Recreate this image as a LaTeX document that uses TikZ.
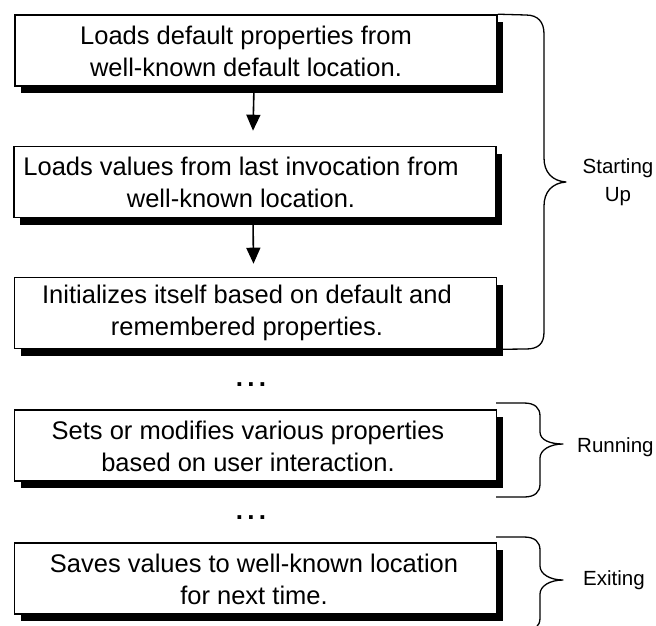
\documentclass[tikz,border=0pt]{standalone}
\usepackage{fontspec}
\setmainfont{Liberation Sans}
\usetikzlibrary{arrows.meta,shadows}
\begin{document}
\begin{tikzpicture}[x=1pt,y=-1pt,
  stepbox/.style={draw=black,line width=1.6pt,fill=white,rectangle,
    minimum width=482pt,minimum height=71pt,inner sep=0pt,
    drop shadow={shadow xshift=6pt,shadow yshift=-7pt,opacity=1,fill=black}},
  boxtext/.style={align=center,inner sep=0pt,font=\fontsize{25.5}{32}\selectfont},
  lbl/.style={inner sep=0pt,font=\fontsize{20.5}{28}\selectfont},
  dots/.style={inner sep=0pt,font=\fontsize{26}{30}\selectfont\bfseries},
  arr/.style={line width=1.6pt,-{Triangle[length=16pt,width=14pt]}},
  brace/.style={line width=1.3pt,line join=round}]
\useasboundingbox (0,0) rectangle (656,625);
\fill[white] (0,0) rectangle (656,625);

\node[stepbox] (b1) at (256,50.5) {};
\node[stepbox] (b2) at (255,182) {};
\node[stepbox] (b3) at (255.5,313) {};
\node[stepbox] (b4) at (255.5,445.5) {};
\node[stepbox] (b5) at (255.5,578.5) {};

\node[boxtext] (t1) at (246,51) {Loads default properties from\\well-known default location.};
\node[boxtext] (t2) at (241,182) {Loads values from last invocation from\\well-known location.};
\node[boxtext] (t3) at (247,313) {Initializes itself based on default and\\remembered properties.};
\node[boxtext] (t4) at (248,446) {Sets or modifies various properties\\based on user interaction.};
\node[boxtext] (t5) at (254,579) {Saves values to well-known location\\for next time.};

\draw[arr] ([xshift=-2pt]b1.south) -- ([xshift=-2pt,yshift=15pt]b2.north);
\draw[arr] ([xshift=-2pt]b2.south) -- ([xshift=-2pt,yshift=13pt]b3.north);

\node[dots] (d1) at (251,385) {.\hspace{4.3pt}.\hspace{4.3pt}.};
\node[dots] (d2) at (251,518) {.\hspace{4.3pt}.\hspace{4.3pt}.};

% braces
\draw[brace] (b1.north east) -- (526,15) .. controls (538,15) and (544,22) .. (544,34)
  -- (544,158) .. controls (544,172) and (552,181) .. (566,182)
  .. controls (552,183) and (544,192) .. (544,206)
  -- (544,332) .. controls (544,344) and (538,349) .. (526,349) -- (b3.south east);
\draw[brace] (496,403) -- (524,403) .. controls (535,403) and (540,408) .. (540,416)
  -- (540,432) .. controls (540,440) and (550,444) .. (563,444)
  .. controls (550,444) and (540,450) .. (540,458)
  -- (540,484) .. controls (540,492) and (535,497) .. (524,497) -- (496,497);
\draw[brace] (496,537) -- (524,537) .. controls (535,537) and (540,542) .. (540,550)
  -- (540,566) .. controls (540,574) and (550,580) .. (563,580)
  .. controls (550,580) and (540,586) .. (540,594)
  -- (540,618) .. controls (540,626) and (535,631) .. (524,631) -- (496,631);

\node[lbl,align=center] (l1) at (618,182) {Starting\\Up};
\node[lbl,anchor=base west] (l2) at (577,452) {Running};
\node[lbl,anchor=base west] (l3) at (583,585) {Exiting};
\end{tikzpicture}
\end{document}
